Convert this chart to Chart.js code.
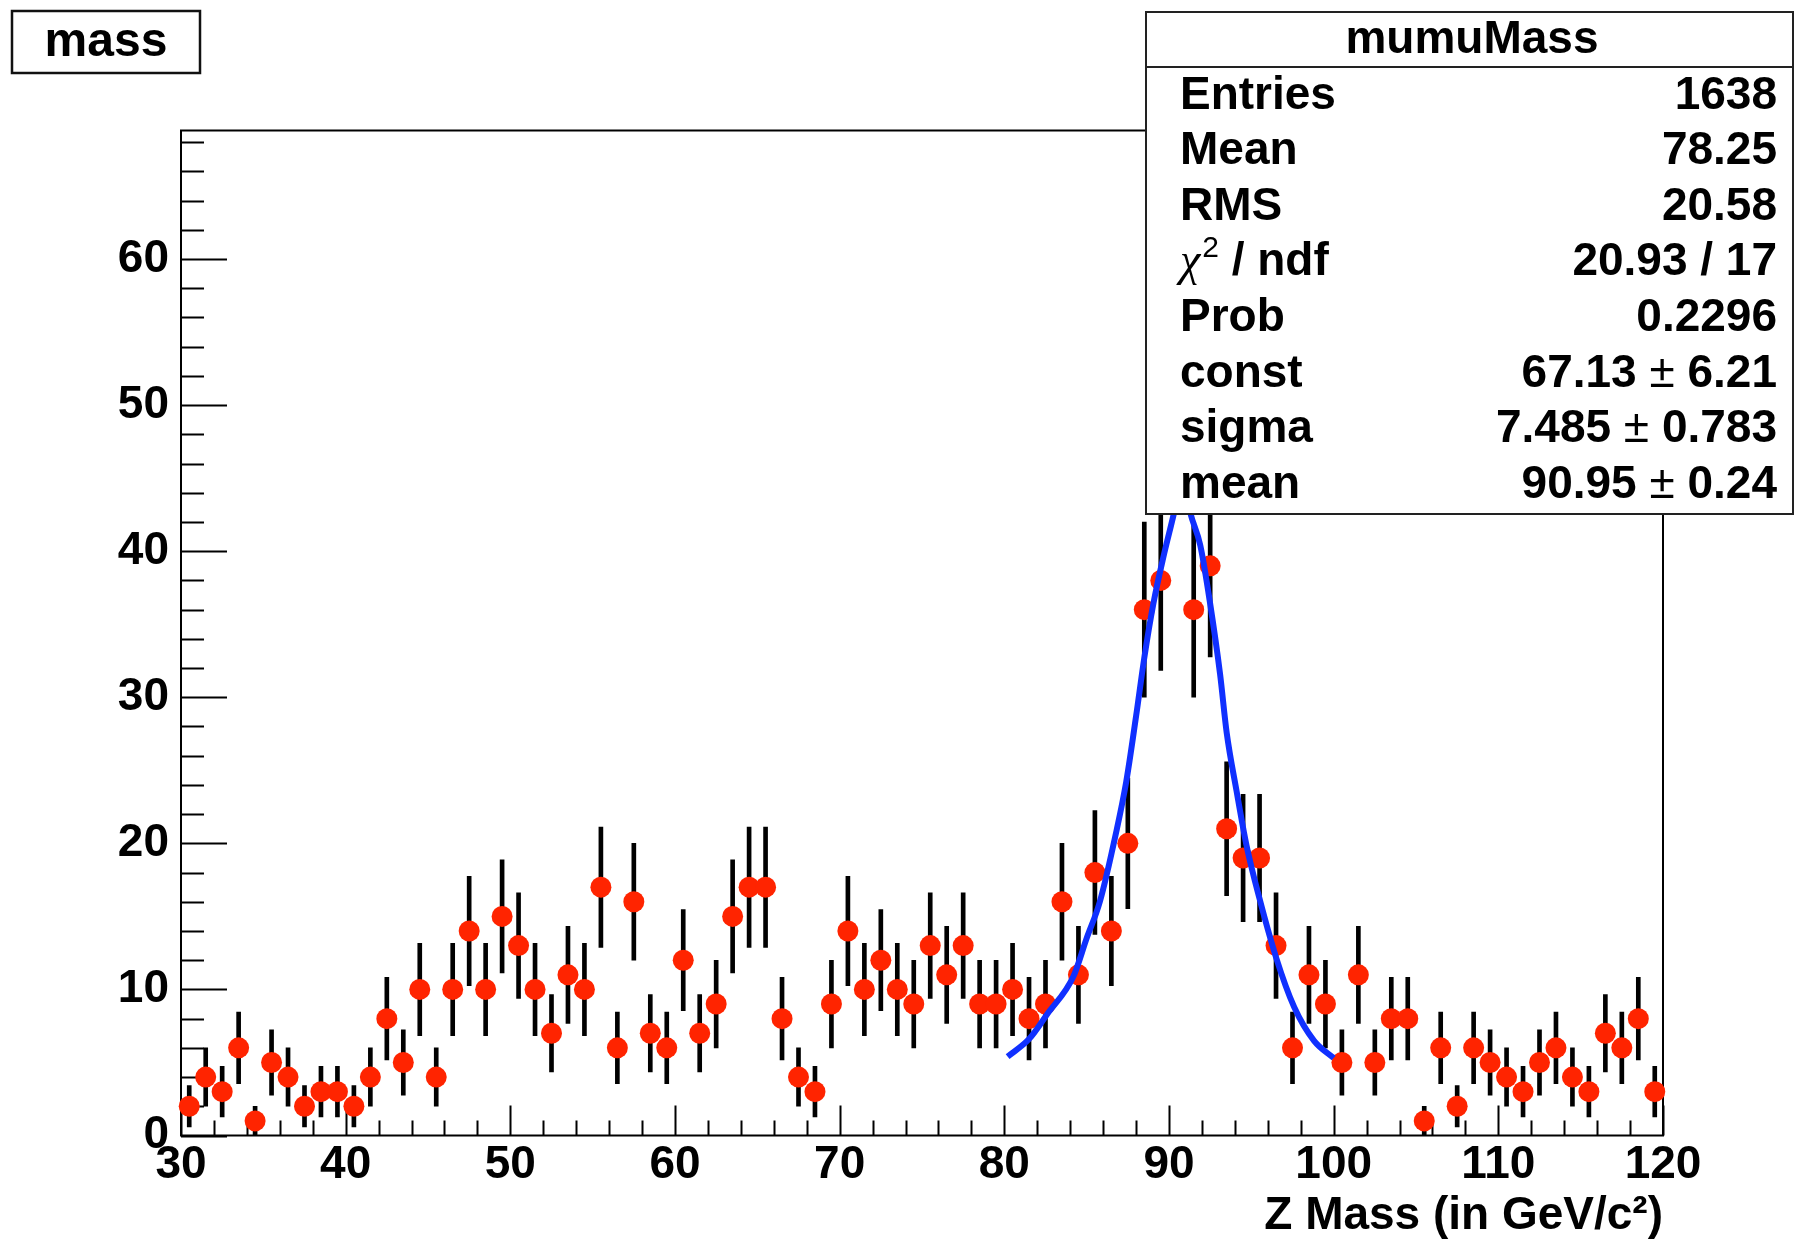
<!DOCTYPE html>
<html><head><meta charset="utf-8">
<script src="https://cdn.jsdelivr.net/npm/chart.js@4/dist/chart.umd.min.js"></script>
<style>html,body{margin:0;padding:0;background:#fff;}canvas{display:block;}</style>
</head><body>
<canvas id="c" width="1795" height="1247"></canvas>
<script>
// ---- data ----
const binCenters = [30.5,31.5,32.5,33.5,34.5,35.5,36.5,37.5,38.5,39.5,
  40.5,41.5,42.5,43.5,44.5,45.5,46.5,47.5,48.5,49.5,
  50.5,51.5,52.5,53.5,54.5,55.5,56.5,57.5,58.5,59.5,
  60.5,61.5,62.5,63.5,64.5,65.5,66.5,67.5,68.5,69.5,
  70.5,71.5,72.5,73.5,74.5,75.5,76.5,77.5,78.5,79.5,
  80.5,81.5,82.5,83.5,84.5,85.5,86.5,87.5,88.5,89.5,
  90.5,91.5,92.5,93.5,94.5,95.5,96.5,97.5,98.5,99.5,
  100.5,101.5,102.5,103.5,104.5,105.5,106.5,107.5,108.5,109.5,
  110.5,111.5,112.5,113.5,114.5,115.5,116.5,117.5,118.5,119.5];
const counts = [2,4,3,6,1,5,4,2,3,3,
  2,4,8,5,10,4,10,14,10,15,
  13,10,7,11,10,17,6,16,7,6,
  12,7,9,15,17,17,8,4,3,9,
  14,10,12,10,9,13,11,13,9,9,
  10,8,9,16,11,18,14,20,36,38,
  56,36,39,21,19,19,13,6,11,9,
  5,11,5,8,8,1,6,2,6,5,
  4,3,5,6,4,3,7,6,8,3];
const errors = [1.41,2,1.73,2.45,1,2.24,2,1.41,1.73,1.73,
  1.41,2,2.83,2.24,3.16,2,3.16,3.74,3.16,3.87,
  3.61,3.16,2.65,3.32,3.16,4.12,2.45,4,2.65,2.45,
  3.46,2.65,3,3.87,4.12,4.12,2.83,2,1.73,3,
  3.74,3.16,3.46,3.16,3,3.61,3.32,3.61,3,3,
  3.16,2.83,3,4,3.32,4.24,3.74,4.47,6,6.16,
  7.48,6,6.24,4.58,4.36,4.36,3.61,2.45,3.32,3,
  2.24,3.32,2.24,2.83,2.83,1,2.45,1.41,2.45,2.24,
  2,1.73,2.24,2.45,2,1.73,2.65,2.45,2.83,1.73];
const fitX = [80.2,81.5,82.6,84.2,85.0,85.8,86.8,87.4,88.0,88.5,89.05,89.7,90.3,90.8,91.3,91.9,92.5,93.1,93.5,94.1,94.7,95.5,96.5,97.6,98.8,100.0];
const fitY = [5.4,6.6,8.3,10.9,13.5,16.0,20.8,24.2,28.7,32.7,36.4,39.8,42.6,45.2,42.6,40.4,36.4,31.6,27.6,23.6,19.9,16.2,12.2,8.8,6.5,5.3];
const xTicks = [30,40,50,60,70,80,90,100,110,120];
const yTicks = [0,10,20,30,40,50,60];
const histTitle = 'mass';
const statsTitle = 'mumuMass';
const statsLabels = ['Entries','Mean','RMS','CHI','Prob','const','sigma','mean'];
const statsValues = [['1638'],['78.25'],['20.58'],['20.93 / 17'],['0.2296'],['67.13','6.21'],['7.485','0.783'],['90.95','0.24']];
const xTitle = 'Z Mass (in GeV/c\u00B2)';

// ---- styles ----
const FONT = "'Liberation Sans', Arial, sans-serif";
const RED = '#ff2400';
const BLUE = '#1030ff';

const pts = binCenters.map((x,i)=>({x, y: counts[i]}));
const bars = binCenters.map((x,i)=>({x, y: [counts[i]-errors[i], counts[i]+errors[i]]}));
const fit = fitX.map((x,i)=>({x, y: fitY[i]}));

const rootPlugin = {
  id: 'root',
  beforeDatasetsDraw(chart) {
    const {ctx, chartArea: a, scales: {x, y}} = chart;
    ctx.save();
    ctx.strokeStyle = '#000';
    ctx.lineWidth = 2;
    ctx.strokeRect(a.left, a.top, a.right - a.left, a.bottom - a.top);
    ctx.beginPath();
    for (let v = 0; v <= y.max; v += 2) {
      const py = Math.round(y.getPixelForValue(v)) + 0.5;
      const len = (v % 10 === 0) ? 46 : 23;
      ctx.moveTo(a.left, py); ctx.lineTo(a.left + len, py);
    }
    for (let v = x.min; v <= x.max; v += 2) {
      const px = Math.round(x.getPixelForValue(v)) + 0.5;
      const len = (v % 10 === 0) ? 30 : 15;
      ctx.moveTo(px, a.bottom); ctx.lineTo(px, a.bottom - len);
    }
    ctx.stroke();
    ctx.restore();
  },
  afterDraw(chart) {
    const ctx = chart.ctx;
    ctx.save();
    // title box
    ctx.fillStyle = '#fff';
    ctx.fillRect(12, 11, 188, 62);
    ctx.strokeStyle = '#111';
    ctx.lineWidth = 2.5;
    ctx.strokeRect(12, 11, 188, 62);
    ctx.fillStyle = '#000';
    ctx.font = 'bold 48px ' + FONT;
    ctx.textAlign = 'center'; ctx.textBaseline = 'middle';
    ctx.fillText(histTitle, 106, 43);
    // stats box
    const L = 1146, T = 12, R = 1793, B = 514;
    ctx.fillStyle = '#fff';
    ctx.fillRect(L, T, R - L, B - T);
    ctx.strokeStyle = '#222';
    ctx.lineWidth = 2;
    ctx.strokeRect(L, T, R - L, B - T);
    ctx.beginPath(); ctx.moveTo(L, 67); ctx.lineTo(R, 67); ctx.stroke();
    ctx.fillStyle = '#000';
    ctx.font = 'bold 46px ' + FONT;
    ctx.textAlign = 'center';
    ctx.fillText(statsTitle, 1472, 40);
    const bold = 'bold 46px ' + FONT;
    const thin = '46px ' + FONT;
    for (let i = 0; i < statsLabels.length; i++) {
      const yy = 96 + 55.6 * i;
      ctx.textAlign = 'left';
      if (statsLabels[i] === 'CHI') {
        ctx.font = 'italic 46px "Liberation Serif", serif';
        ctx.fillText('\u03C7', 1180, yy);
        let w = ctx.measureText('\u03C7').width;
        ctx.font = '30px ' + FONT;
        ctx.fillText('2', 1180 + w + 2, yy - 14);
        w += ctx.measureText('2').width + 2;
        ctx.font = bold;
        ctx.fillText(' / ndf', 1180 + w, yy);
      } else {
        ctx.font = bold;
        ctx.fillText(statsLabels[i], 1180, yy);
      }
      const v = statsValues[i];
      const parts = v.length === 1 ? [[v[0], bold]] : [[v[0] + ' ', bold], ['\u00B1', thin], [' ' + v[1], bold]];
      let total = 0;
      parts.forEach(p => { ctx.font = p[1]; total += ctx.measureText(p[0]).width; });
      let xx = 1777 - total;
      parts.forEach(p => { ctx.font = p[1]; ctx.fillText(p[0], xx, yy); xx += ctx.measureText(p[0]).width; });
    }
    ctx.restore();
  }
};

new Chart(document.getElementById('c'), {
  type: 'bar',
  data: {
    datasets: [
      { type: 'line', data: fit, borderColor: BLUE, borderWidth: 6, pointRadius: 0,
        cubicInterpolationMode: 'monotone', fill: false, order: 0, clip: false },
      { type: 'scatter', data: pts, pointRadius: 10.5, pointHoverRadius: 10.5, backgroundColor: RED,
        borderWidth: 0, order: 1, clip: false },
      { type: 'bar', data: bars, backgroundColor: '#000', barThickness: 4, grouped: false,
        borderWidth: 0, order: 2 }
    ]
  },
  options: {
    responsive: false, animation: false, devicePixelRatio: 1,
    layout: { padding: { top: 130.5, right: 132, left: 0, bottom: 0 } },
    plugins: { legend: { display: false }, tooltip: { enabled: false }, title: { display: false } },
    events: [],
    scales: {
      x: {
        type: 'linear', min: 30, max: 120, offset: false,
        grid: { display: false, drawTicks: false, offset: false }, border: { display: false },
        afterBuildTicks: s => { s.ticks = xTicks.map(v => ({ value: v })); },
        afterFit: s => { s.height = 111.5; },
        ticks: { color: '#000', padding: 2, autoSkip: false, maxRotation: 0,
          font: { family: FONT, size: 46, weight: 'bold' } },
        title: { display: true, text: xTitle, align: 'end', color: '#000',
          padding: { top: 0, bottom: 3.4 }, font: { family: FONT, size: 46, weight: 'bold' } }
      },
      y: {
        type: 'linear', min: 0, max: 68.8,
        grid: { display: false, drawTicks: false }, border: { display: false },
        afterBuildTicks: s => { s.ticks = yTicks.map(v => ({ value: v })); },
        afterFit: s => { s.width = 181; },
        ticks: { color: '#000', padding: 12, font: { family: FONT, size: 46, weight: 'bold' } }
      }
    }
  },
  plugins: [rootPlugin]
});
</script>
</body></html>
